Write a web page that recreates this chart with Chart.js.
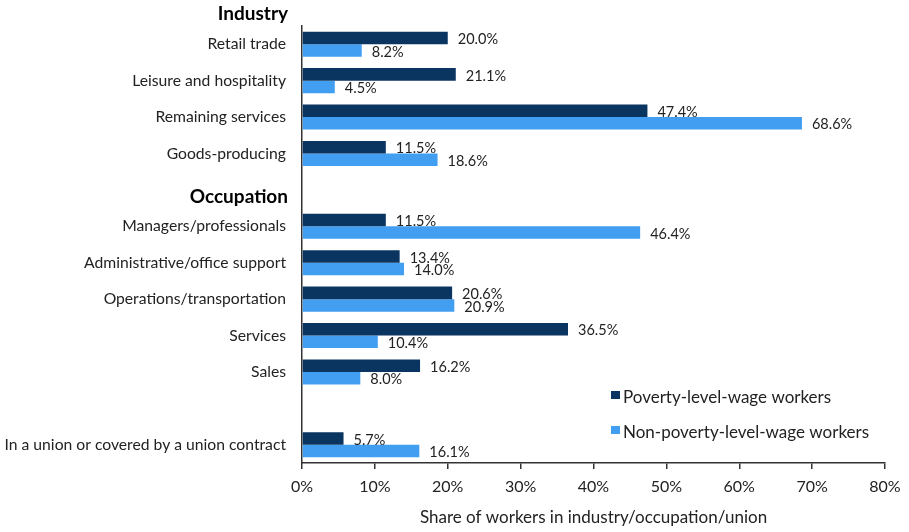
<!DOCTYPE html>
<html>
<head>
<meta charset="utf-8">
<script src="https://cdn.jsdelivr.net/npm/chart.js@4.4.1/dist/chart.umd.min.js"></script>
<style>
  html, body { margin:0; padding:0; background:#fff; }
  #wrap { width:909px; height:532px; position:relative; }
</style>
</head>
<body>
<div id="wrap"><canvas id="povChart"></canvas></div>
<script>
// Categories (blank entry = spacer row before the union row)
const categories = [
    'Retail trade', 'Leisure and hospitality', 'Remaining services', 'Goods-producing',
    'Occupation',
    'Managers/professionals', 'Administrative/office support', 'Operations/transportation', 'Services', 'Sales',
    '',
    'In a union or covered by a union contract'
];
const groupHeaders = ['Industry', 'Occupation'];
const povertyWage = [20.0, 21.1, 47.4, 11.5, null, 11.5, 13.4, 20.6, 36.5, 16.2, null, 5.7];
const nonPovertyWage = [8.2, 4.5, 68.6, 18.6, null, 46.4, 14.0, 20.9, 10.4, 8.0, null, 16.1];
const xTicks = [0, 10, 20, 30, 40, 50, 60, 70, 80];

const FONT = 'Lato';
const DARK = '#0b3561';
const LIGHT = '#419ef1';

// value labels at bar ends
const valueLabels = {
    id: 'valueLabels',
    afterDatasetsDraw(chart) {
        const ctx = chart.ctx;
        ctx.save();
        ctx.font = '14.5px ' + FONT;
        ctx.fillStyle = '#222';
        ctx.textBaseline = 'middle';
        ctx.textAlign = 'left';
        chart.data.datasets.forEach((ds, i) => {
            chart.getDatasetMeta(i).data.forEach((bar, j) => {
                if (ds.data[j] == null) return;
                ctx.fillText(ds.data[j].toFixed(1) + '%', bar.x + 10, bar.y + 1.5);
            });
        });
        ctx.restore();
    }
};

// bold group headers + in-plot legend
const extras = {
    id: 'extras',
    afterDraw(chart) {
        const ctx = chart.ctx;
        const y = chart.scales.y;
        const right = y.right - 14;
        ctx.save();
        ctx.font = 'bold 19px ' + FONT;
        ctx.fillStyle = '#000';
        ctx.textAlign = 'right';
        ctx.textBaseline = 'middle';
        ctx.fillText(groupHeaders[0], right, 14);
        ctx.fillText(groupHeaders[1], right, y.getPixelForValue(categories.indexOf('Occupation')) + 7);

        // legend
        ctx.font = '17px ' + FONT;
        ctx.textAlign = 'left';
        chart.data.datasets.forEach((ds, i) => {
            const ly = 398 + i * 35;
            ctx.fillStyle = ds.backgroundColor;
            ctx.fillRect(611, ly - 7, 9, 8);
            ctx.fillStyle = '#222';
            ctx.fillText(ds.label, 623, ly);
        });
        ctx.restore();
    }
};

new Chart(document.getElementById('povChart'), {
    type: 'bar',
    data: {
        labels: categories,
        datasets: [
            { label: 'Poverty-level-wage workers', data: povertyWage, backgroundColor: DARK },
            { label: 'Non-poverty-level-wage workers', data: nonPovertyWage, backgroundColor: LIGHT }
        ]
    },
    options: {
        indexAxis: 'y',
        responsive: true, maintainAspectRatio: false,
        animation: false,
        barPercentage: 1,
        categoryPercentage: 0.69,
        layout: { padding: { top: 26, right: 24, left: 0, bottom: 0 } },
        scales: {
            x: {
                min: 0, max: 80,
                afterBuildTicks: s => { s.ticks = xTicks.map(v => ({ value: v })); },
                afterFit: s => { s.height = 69; },
                border: { color: '#333', width: 1.5 },
                grid: { drawOnChartArea: false, drawTicks: true, tickLength: 6, color: '#333', lineWidth: 1.5 },
                ticks: { color: '#222', padding: 8, font: { family: FONT, size: 16 }, callback: v => v + '%' },
                title: { display: true, text: 'Share of workers in industry/occupation/union', color: '#222', font: { family: FONT, size: 17 }, padding: { top: 7 } }
            },
            y: {
                afterFit: s => { s.width = 302; },
                border: { color: '#333', width: 1.5 },
                grid: { display: false, drawTicks: false },
                ticks: {
                    color: '#222', padding: 16, font: { family: FONT, size: 15.7 },
                    callback: function(v) {
                        const l = this.getLabelForValue(v);
                        return groupHeaders.includes(l) ? '' : l;
                    }
                }
            }
        },
        plugins: {
            legend: { display: false },
            tooltip: { enabled: false }
        }
    },
    plugins: [valueLabels, extras]
});
</script>
</body>
</html>
